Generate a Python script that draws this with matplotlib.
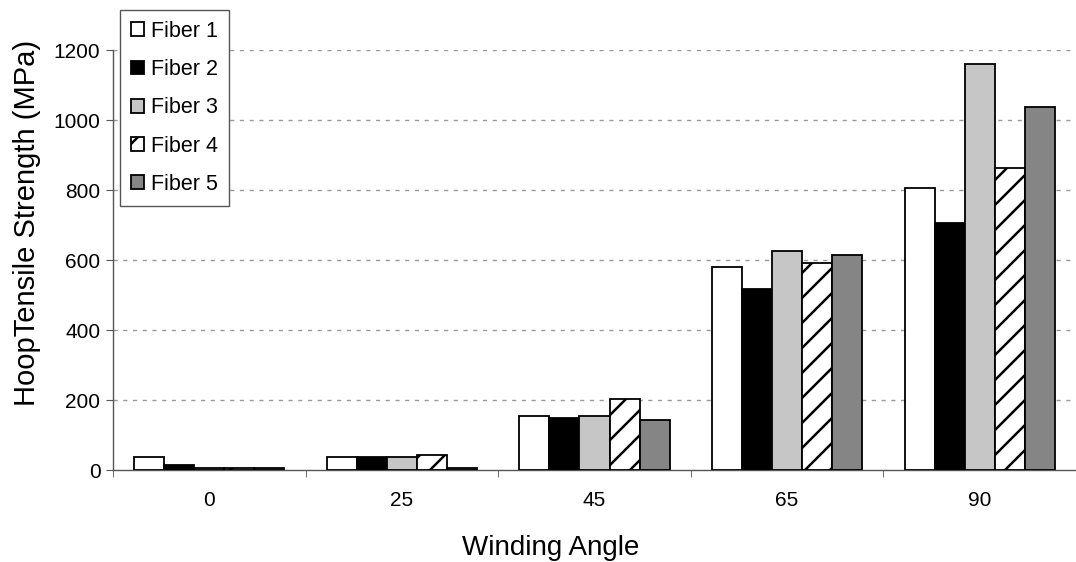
import numpy as np
import matplotlib
matplotlib.use("Agg")
import matplotlib.pyplot as plt
import matplotlib.hatch as mhatch

plt.rcParams['font.family'] = ['Liberation Sans', 'DejaVu Sans']
plt.rcParams['hatch.linewidth'] = 1.8

# a bit denser '/' hatch than the default one (even line count so it tiles)
_ne_init = mhatch.NorthEastHatch.__init__
def _ne_dense(self, hatch, density):
    _ne_init(self, hatch, density)
    self.num_lines = 2 * int(hatch.count('/') * density * 0.7)
    self.num_vertices = (self.num_lines + 1) * 2
mhatch.NorthEastHatch.__init__ = _ne_dense

# data
angles = ["0", "25", "45", "65", "90"]
fibers = ["Fiber 1", "Fiber 2", "Fiber 3", "Fiber 4", "Fiber 5"]
fiber1 = [38, 38, 154, 580, 806]
fiber2 = [13, 38, 150, 517, 707]
fiber3 = [6, 38, 154, 627, 1160]
fiber4 = [6, 44, 203, 591, 862]
fiber5 = [6, 6, 143, 614, 1036]
series = [fiber1, fiber2, fiber3, fiber4, fiber5]

colors = ["white", "black", "#c6c6c6", "white", "#858585"]
hatches = [None, None, None, "/", None]

fig = plt.figure(figsize=(10.76, 5.62), dpi=100)
ax = fig.add_axes([0.105, 0.1637, 0.895, 0.7473])

x = np.arange(len(angles))
w = 0.156
for i, vals in enumerate(series):
    ax.bar(x + (i - 2) * w, vals, w, color=colors[i], edgecolor="black",
           linewidth=1.3, hatch=hatches[i], label=fibers[i], zorder=3)

ax.set_xlim(-0.5, 4.5)
ax.set_ylim(0, 1200)
ax.set_yticks(range(0, 1201, 200))
ax.set_xticks(x)
ax.set_xticklabels(angles)
ax.set_xticks(np.arange(-0.5, 4.6, 1), minor=True)
ax.tick_params(axis="x", which="major", length=0, labelsize=15, pad=15)
ax.tick_params(axis="x", which="minor", length=5, color="#555555")
ax.tick_params(axis="y", length=5, color="#555555", labelsize=15, pad=4)

for v in range(200, 1201, 200):
    ax.axhline(v, color="#9a9a9a", linestyle=(0, (3, 4)), linewidth=1.0, zorder=1)

for s in ["top", "right"]:
    ax.spines[s].set_visible(False)
for s in ["left", "bottom"]:
    ax.spines[s].set_color("#555555")
    ax.spines[s].set_linewidth(1.0)

ax.set_xlabel("Winding Angle", fontsize=20, va="center")
ax.set_ylabel("HoopTensile Strength (MPa)", fontsize=21, va="center")
ax.xaxis.set_label_coords(0.455, -0.186)
ax.yaxis.set_label_coords(-0.089, 0.588)

leg = fig.legend(loc="upper left", bbox_to_anchor=(0.1115, 0.982), fontsize=15.5,
                 handlelength=0.6, handleheight=0.6, labelspacing=0.8,
                 handletextpad=0.35, borderpad=0.5, borderaxespad=0.0,
                 fancybox=False, framealpha=1, edgecolor="#555555")
leg.get_frame().set_linewidth(1.0)

fig.savefig("out.png", dpi=100)
